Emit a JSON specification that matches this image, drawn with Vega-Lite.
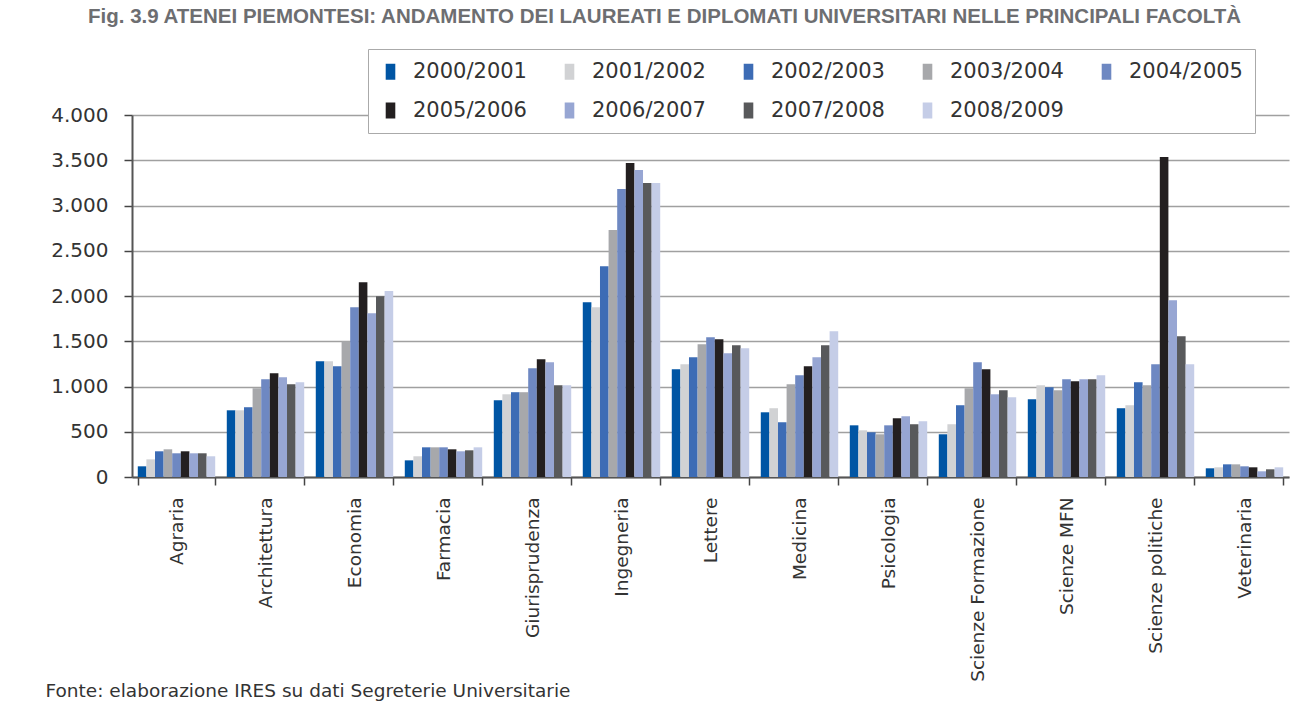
{
  "$schema": "https://vega.github.io/schema/vega-lite/v6.json",
  "autosize": "none",
  "width": 1157,
  "height": 362,
  "padding": {"left": 132, "top": 115, "right": 22, "bottom": 244},
  "background": "white",
  "title": {
    "text": "Fig. 3.9 ATENEI PIEMONTESI: ANDAMENTO DEI LAUREATI E DIPLOMATI UNIVERSITARI NELLE PRINCIPALI FACOLTÀ",
    "anchor": "start",
    "frame": "group",
    "dx": -44,
    "offset": 21,
    "font": "Liberation Sans",
    "fontSize": 20.5,
    "fontWeight": "bold",
    "color": "#6d6e71"
  },
  "data": {
    "values": [
      {"facolta": "Agraria", "anno": "2000/2001", "valore": 118},
      {"facolta": "Agraria", "anno": "2001/2002", "valore": 195},
      {"facolta": "Agraria", "anno": "2002/2003", "valore": 284},
      {"facolta": "Agraria", "anno": "2003/2004", "valore": 306},
      {"facolta": "Agraria", "anno": "2004/2005", "valore": 262},
      {"facolta": "Agraria", "anno": "2005/2006", "valore": 284},
      {"facolta": "Agraria", "anno": "2006/2007", "valore": 262},
      {"facolta": "Agraria", "anno": "2007/2008", "valore": 262},
      {"facolta": "Agraria", "anno": "2008/2009", "valore": 229},
      {"facolta": "Architettura", "anno": "2000/2001", "valore": 737},
      {"facolta": "Architettura", "anno": "2001/2002", "valore": 737},
      {"facolta": "Architettura", "anno": "2002/2003", "valore": 771},
      {"facolta": "Architettura", "anno": "2003/2004", "valore": 981},
      {"facolta": "Architettura", "anno": "2004/2005", "valore": 1080},
      {"facolta": "Architettura", "anno": "2005/2006", "valore": 1147},
      {"facolta": "Architettura", "anno": "2006/2007", "valore": 1102},
      {"facolta": "Architettura", "anno": "2007/2008", "valore": 1025},
      {"facolta": "Architettura", "anno": "2008/2009", "valore": 1047},
      {"facolta": "Economia", "anno": "2000/2001", "valore": 1279},
      {"facolta": "Economia", "anno": "2001/2002", "valore": 1279},
      {"facolta": "Economia", "anno": "2002/2003", "valore": 1224},
      {"facolta": "Economia", "anno": "2003/2004", "valore": 1501},
      {"facolta": "Economia", "anno": "2004/2005", "valore": 1877},
      {"facolta": "Economia", "anno": "2005/2006", "valore": 2153},
      {"facolta": "Economia", "anno": "2006/2007", "valore": 1810},
      {"facolta": "Economia", "anno": "2007/2008", "valore": 1998},
      {"facolta": "Economia", "anno": "2008/2009", "valore": 2054},
      {"facolta": "Farmacia", "anno": "2000/2001", "valore": 184},
      {"facolta": "Farmacia", "anno": "2001/2002", "valore": 229},
      {"facolta": "Farmacia", "anno": "2002/2003", "valore": 328},
      {"facolta": "Farmacia", "anno": "2003/2004", "valore": 328},
      {"facolta": "Farmacia", "anno": "2004/2005", "valore": 328},
      {"facolta": "Farmacia", "anno": "2005/2006", "valore": 306},
      {"facolta": "Farmacia", "anno": "2006/2007", "valore": 284},
      {"facolta": "Farmacia", "anno": "2007/2008", "valore": 295},
      {"facolta": "Farmacia", "anno": "2008/2009", "valore": 328},
      {"facolta": "Giurisprudenza", "anno": "2000/2001", "valore": 848},
      {"facolta": "Giurisprudenza", "anno": "2001/2002", "valore": 914},
      {"facolta": "Giurisprudenza", "anno": "2002/2003", "valore": 937},
      {"facolta": "Giurisprudenza", "anno": "2003/2004", "valore": 937},
      {"facolta": "Giurisprudenza", "anno": "2004/2005", "valore": 1202},
      {"facolta": "Giurisprudenza", "anno": "2005/2006", "valore": 1302},
      {"facolta": "Giurisprudenza", "anno": "2006/2007", "valore": 1268},
      {"facolta": "Giurisprudenza", "anno": "2007/2008", "valore": 1014},
      {"facolta": "Giurisprudenza", "anno": "2008/2009", "valore": 1014},
      {"facolta": "Ingegneria", "anno": "2000/2001", "valore": 1932},
      {"facolta": "Ingegneria", "anno": "2001/2002", "valore": 1877},
      {"facolta": "Ingegneria", "anno": "2002/2003", "valore": 2330},
      {"facolta": "Ingegneria", "anno": "2003/2004", "valore": 2728},
      {"facolta": "Ingegneria", "anno": "2004/2005", "valore": 3182},
      {"facolta": "Ingegneria", "anno": "2005/2006", "valore": 3469},
      {"facolta": "Ingegneria", "anno": "2006/2007", "valore": 3392},
      {"facolta": "Ingegneria", "anno": "2007/2008", "valore": 3248},
      {"facolta": "Ingegneria", "anno": "2008/2009", "valore": 3248},
      {"facolta": "Lettere", "anno": "2000/2001", "valore": 1191},
      {"facolta": "Lettere", "anno": "2001/2002", "valore": 1246},
      {"facolta": "Lettere", "anno": "2002/2003", "valore": 1324},
      {"facolta": "Lettere", "anno": "2003/2004", "valore": 1467},
      {"facolta": "Lettere", "anno": "2004/2005", "valore": 1545},
      {"facolta": "Lettere", "anno": "2005/2006", "valore": 1523},
      {"facolta": "Lettere", "anno": "2006/2007", "valore": 1368},
      {"facolta": "Lettere", "anno": "2007/2008", "valore": 1456},
      {"facolta": "Lettere", "anno": "2008/2009", "valore": 1423},
      {"facolta": "Medicina", "anno": "2000/2001", "valore": 715},
      {"facolta": "Medicina", "anno": "2001/2002", "valore": 760},
      {"facolta": "Medicina", "anno": "2002/2003", "valore": 605},
      {"facolta": "Medicina", "anno": "2003/2004", "valore": 1025},
      {"facolta": "Medicina", "anno": "2004/2005", "valore": 1125},
      {"facolta": "Medicina", "anno": "2005/2006", "valore": 1224},
      {"facolta": "Medicina", "anno": "2006/2007", "valore": 1324},
      {"facolta": "Medicina", "anno": "2007/2008", "valore": 1456},
      {"facolta": "Medicina", "anno": "2008/2009", "valore": 1611},
      {"facolta": "Psicologia", "anno": "2000/2001", "valore": 571},
      {"facolta": "Psicologia", "anno": "2001/2002", "valore": 516},
      {"facolta": "Psicologia", "anno": "2002/2003", "valore": 494},
      {"facolta": "Psicologia", "anno": "2003/2004", "valore": 472},
      {"facolta": "Psicologia", "anno": "2004/2005", "valore": 571},
      {"facolta": "Psicologia", "anno": "2005/2006", "valore": 649},
      {"facolta": "Psicologia", "anno": "2006/2007", "valore": 671},
      {"facolta": "Psicologia", "anno": "2007/2008", "valore": 583},
      {"facolta": "Psicologia", "anno": "2008/2009", "valore": 616},
      {"facolta": "Scienze Formazione", "anno": "2000/2001", "valore": 472},
      {"facolta": "Scienze Formazione", "anno": "2001/2002", "valore": 583},
      {"facolta": "Scienze Formazione", "anno": "2002/2003", "valore": 793},
      {"facolta": "Scienze Formazione", "anno": "2003/2004", "valore": 981},
      {"facolta": "Scienze Formazione", "anno": "2004/2005", "valore": 1268},
      {"facolta": "Scienze Formazione", "anno": "2005/2006", "valore": 1191},
      {"facolta": "Scienze Formazione", "anno": "2006/2007", "valore": 914},
      {"facolta": "Scienze Formazione", "anno": "2007/2008", "valore": 959},
      {"facolta": "Scienze Formazione", "anno": "2008/2009", "valore": 881},
      {"facolta": "Scienze MFN", "anno": "2000/2001", "valore": 859},
      {"facolta": "Scienze MFN", "anno": "2001/2002", "valore": 1014},
      {"facolta": "Scienze MFN", "anno": "2002/2003", "valore": 992},
      {"facolta": "Scienze MFN", "anno": "2003/2004", "valore": 959},
      {"facolta": "Scienze MFN", "anno": "2004/2005", "valore": 1080},
      {"facolta": "Scienze MFN", "anno": "2005/2006", "valore": 1058},
      {"facolta": "Scienze MFN", "anno": "2006/2007", "valore": 1080},
      {"facolta": "Scienze MFN", "anno": "2007/2008", "valore": 1080},
      {"facolta": "Scienze MFN", "anno": "2008/2009", "valore": 1125},
      {"facolta": "Scienze politiche", "anno": "2000/2001", "valore": 760},
      {"facolta": "Scienze politiche", "anno": "2001/2002", "valore": 793},
      {"facolta": "Scienze politiche", "anno": "2002/2003", "valore": 1047},
      {"facolta": "Scienze politiche", "anno": "2003/2004", "valore": 1014},
      {"facolta": "Scienze politiche", "anno": "2004/2005", "valore": 1246},
      {"facolta": "Scienze politiche", "anno": "2005/2006", "valore": 3536},
      {"facolta": "Scienze politiche", "anno": "2006/2007", "valore": 1954},
      {"facolta": "Scienze politiche", "anno": "2007/2008", "valore": 1556},
      {"facolta": "Scienze politiche", "anno": "2008/2009", "valore": 1246},
      {"facolta": "Veterinaria", "anno": "2000/2001", "valore": 96},
      {"facolta": "Veterinaria", "anno": "2001/2002", "valore": 107},
      {"facolta": "Veterinaria", "anno": "2002/2003", "valore": 140},
      {"facolta": "Veterinaria", "anno": "2003/2004", "valore": 140},
      {"facolta": "Veterinaria", "anno": "2004/2005", "valore": 118},
      {"facolta": "Veterinaria", "anno": "2005/2006", "valore": 107},
      {"facolta": "Veterinaria", "anno": "2006/2007", "valore": 63},
      {"facolta": "Veterinaria", "anno": "2007/2008", "valore": 85},
      {"facolta": "Veterinaria", "anno": "2008/2009", "valore": 107}
    ]
  },
  "mark": {"type": "bar"},
  "encoding": {
    "x": {
      "field": "facolta",
      "type": "nominal",
      "sort": null,
      "scale": {"paddingInner": 0.13, "paddingOuter": 0.065},
      "axis": {
        "title": "Fonte: elaborazione IRES su dati Segreterie Universitarie",
        "titleX": -87,
        "titleY": 213,
        "titleAlign": "left",
        "titleAnchor": null,
        "titleAngle": 0,
        "titleBaseline": "middle",
        "titleFont": "DejaVu Sans",
        "titleFontSize": 18.5,
        "titleFontWeight": "normal",
        "titleColor": "#333333",
        "labelAngle": -90,
        "labelFont": "DejaVu Sans",
        "labelFontSize": 18.5,
        "labelColor": "#333333",
        "labelPadding": 12,
        "labelLimit": 0,
        "tickBand": "extent",
        "ticks": true,
        "tickSize": 8,
        "tickColor": "#444444",
        "tickWidth": 1.5,
        "domainColor": "#555555",
        "domainWidth": 2,
        "grid": false
      }
    },
    "xOffset": {"field": "anno", "type": "nominal", "sort": null, "scale": {"paddingInner": 0, "paddingOuter": 0}},
    "y": {
      "field": "valore",
      "type": "quantitative",
      "scale": {"domain": [0, 4000], "nice": false},
      "axis": {
        "title": null,
        "values": [0, 500, 1000, 1500, 2000, 2500, 3000, 3500, 4000],
        "labelExpr": "replace(format(datum.value, ','), ',', '.')",
        "labelFont": "DejaVu Sans",
        "labelFontSize": 20,
        "labelColor": "#333333",
        "labelPadding": 16,
        "tickSize": 8,
        "tickColor": "#444444",
        "tickWidth": 1.5,
        "domainColor": "#555555",
        "domainWidth": 2,
        "grid": true,
        "gridColor": "#a0a0a0",
        "gridWidth": 1.5
      }
    },
    "color": {
      "field": "anno",
      "type": "nominal",
      "sort": null,
      "scale": {
        "domain": ["2000/2001", "2001/2002", "2002/2003", "2003/2004", "2004/2005", "2005/2006", "2006/2007", "2007/2008", "2008/2009"],
        "range": ["#0055a4", "#d1d2d4", "#3d6cb5", "#a7a8ab", "#6e88c2", "#231f20", "#97a6d3", "#58595b", "#c5cde7"]
      },
      "legend": {
        "title": null,
        "orient": "none",
        "legendX": 236,
        "legendY": -66,
        "direction": "horizontal",
        "columns": 5,
        "columnPadding": 32,
        "rowPadding": 17,
        "padding": 12,
        "strokeColor": "#aaaaaa",
        "fillColor": "white",
        "symbolType": "M-0.6,-1H0.6V1H-0.6Z",
        "symbolSize": 256,
        "symbolStrokeWidth": 0,
        "labelFont": "DejaVu Sans",
        "labelFontSize": 21,
        "labelColor": "#333333",
        "labelOffset": 12
      }
    }
  },
  "config": {
    "view": {"stroke": null}
  }
}
